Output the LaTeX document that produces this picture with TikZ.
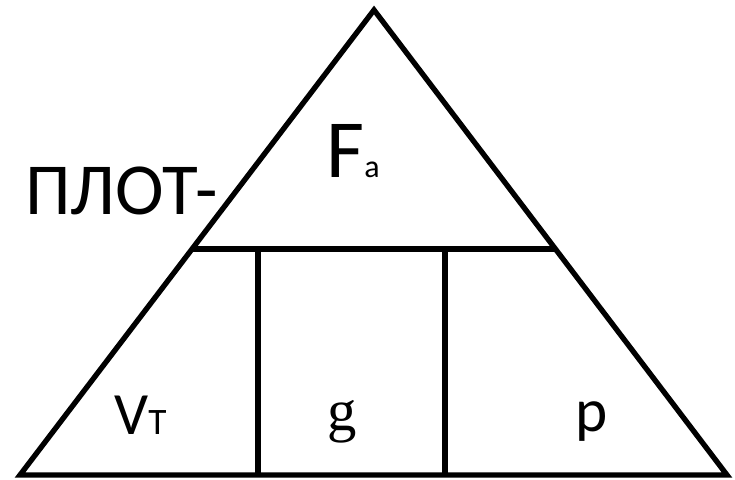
\documentclass[tikz,border=0pt]{standalone}
\usepackage{fontspec}
\usepackage{tikz}
\usetikzlibrary{calc}
\setmainfont{Carlito}
\newfontfamily\gfont{Liberation Serif}
\tikzset{
  trline/.style={line width=4pt, draw=black, line join=miter},
  trlabel/.style={inner sep=0pt, anchor=base west, text=black}
}
\begin{document}
\begin{tikzpicture}[x=0.75pt,y=-0.75pt]
  \useasboundingbox (0,0) rectangle (735,479);
  \coordinate (apex) at (374,10);
  \coordinate (baseL) at (20,475);
  \coordinate (baseR) at (727,475);
  \coordinate (midL) at ($(apex)!0.514!(baseL)$);
  \coordinate (midR) at ($(apex)!0.514!(baseR)$);
  \coordinate (cutA) at (258,0 |- midL);
  \coordinate (cutB) at (445,0 |- midL);
  \draw[trline] (apex) -- (baseR) -- (baseL) -- cycle;
  \draw[trline] (midL) -- (midR);
  \draw[trline] (cutA) -- (cutA |- baseL);
  \draw[trline] (cutB) -- (cutB |- baseL);
  \node[trlabel, font=\fontsize{55}{55}\selectfont] (plot) at (25,214) {ПЛОТ-};
  \node[trlabel, font=\fontsize{62}{62}\selectfont] (force) at (326,177) {F{\fontsize{24}{24}\selectfont a}};
  \node[trlabel, font=\fontsize{45}{45}\selectfont] (volume) at (114,434) {V{\fontsize{28}{28}\selectfont T}};
  \node[inner sep=0pt, anchor=base, font=\gfont\fontsize{44}{44}\selectfont] (grav) at (342,430) {g};
  \node[inner sep=0pt, anchor=base, font=\fontsize{46}{46}\selectfont] (dens) at (592,431) {p};
\end{tikzpicture}
\end{document}
